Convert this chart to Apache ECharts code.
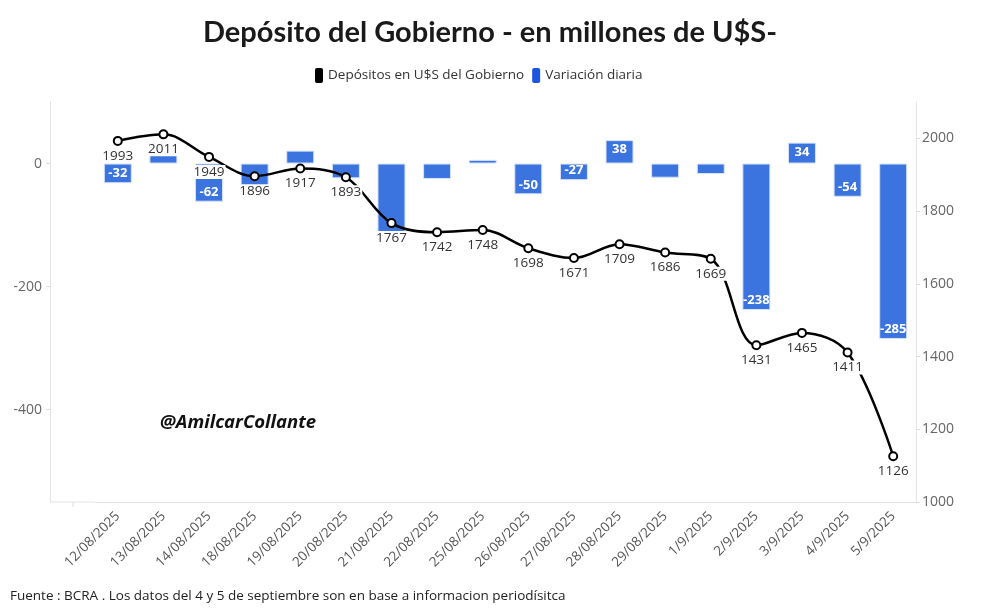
<!DOCTYPE html>
<html>
<head>
<meta charset="utf-8">
<script src="https://cdn.jsdelivr.net/npm/echarts@6/dist/echarts.min.js"></script>
<style>
  html, body { margin: 0; padding: 0; background: #fff; }
  #chart { width: 992px; height: 614px; }
</style>
</head>
<body>
<div id="chart"></div>
<script>
// fechas (eje x)
const fechas = [
  "12/08/2025", "13/08/2025", "14/08/2025", "18/08/2025", "19/08/2025",
  "20/08/2025", "21/08/2025", "22/08/2025", "25/08/2025", "26/08/2025",
  "27/08/2025", "28/08/2025", "29/08/2025", "1/9/2025", "2/9/2025",
  "3/9/2025", "4/9/2025", "5/9/2025"
];
// depósitos del gobierno en millones de U$S
const depositos = [
  1993, 2011, 1949, 1896, 1917, 1893, 1767, 1742, 1748, 1698,
  1671, 1709, 1686, 1669, 1431, 1465, 1411, 1126
];
// variación diaria
const variacion = [
  -32, 18, -62, -53, 21, -24, -126, -25, 6, -50,
  -27, 38, -23, -17, -238, 34, -54, -285
];
const ticksIzq = [-400, -200, 0];
const ticksDer = [1000, 1200, 1400, 1600, 1800, 2000];

// etiquetas de barras que se ven en el original
const etiquetasVisibles = ["-32", "-62", "-50", "-27", "38", "-238", "34", "-54", "-285"];

const fuente = "'Open Sans', 'Noto Sans', sans-serif";
const azul = "#3b74de";

const barData = variacion.map(function (v) {
  return {
    value: v,
    label: {
      show: etiquetasVisibles.indexOf(String(v)) >= 0,
      position: v < 0 ? "insideBottom" : "insideTop"
    }
  };
});

const option = {
  animation: false,
  title: {
    text: "Depósito del Gobierno - en millones de U$S-",
    left: 198,
    top: 13,
    textStyle: { fontFamily: "Lato, sans-serif", fontWeight: "bold", fontSize: 29, color: "#1a1a1a" }
  },
  legend: {
    top: 63,
    left: 310,
    itemWidth: 8,
    itemHeight: 15,
    itemGap: 8,
    textStyle: { fontFamily: fuente, fontSize: 13.5, color: "#333" },
    data: [
      { name: "Depósitos en U$S del Gobierno", icon: "roundRect", itemStyle: { color: "#000", borderWidth: 0 } },
      { name: "Variación diaria", icon: "roundRect", itemStyle: { color: "#1a56e0", borderWidth: 0 } }
    ]
  },
  grid: { left: 95, right: 76, top: 102, bottom: 112 },
  xAxis: {
    type: "category",
    data: fechas,
    axisLine: { onZero: false, lineStyle: { color: "#e4e4e4" } },
    axisTick: { alignWithLabel: true, length: 5, lineStyle: { color: "#dcdcdc" } },
    axisLabel: { rotate: 45, fontFamily: fuente, fontSize: 13.5, color: "#555", margin: 12 }
  },
  yAxis: [
    {
      type: "value",
      min: -550,
      max: 100,
      offset: 45,
      splitLine: { show: false },
      axisLine: { show: true, onZero: false, lineStyle: { color: "#e4e4e4" } },
      axisTick: { show: true, length: 4, customValues: ticksIzq, lineStyle: { color: "#dcdcdc" } },
      axisLabel: { customValues: ticksIzq, fontFamily: fuente, fontSize: 14, color: "#666", margin: 8 }
    },
    {
      type: "value",
      min: 1000,
      max: 2100,
      position: "right",
      splitLine: { show: false },
      axisLine: { show: true, onZero: false, lineStyle: { color: "#e4e4e4" } },
      axisTick: { show: true, length: 4, customValues: ticksDer, lineStyle: { color: "#dcdcdc" } },
      axisLabel: {
        customValues: ticksDer,
        formatter: function (v) { return String(v); },
        fontFamily: fuente, fontSize: 14, color: "#666", margin: 6
      }
    }
  ],
  series: [
    {
      name: "Variación diaria",
      type: "bar",
      yAxisIndex: 0,
      barWidth: 28,
      data: barData,
      itemStyle: { color: azul, borderColor: "#d7e3fb", borderWidth: 1 },
      label: {
        fontFamily: fuente,
        fontSize: 13,
        fontWeight: "bold",
        color: "#fff",
        distance: 3
      },
      z: 2
    },
    {
      name: "Depósitos en U$S del Gobierno",
      type: "line",
      yAxisIndex: 1,
      data: depositos,
      smooth: 0.35,
      symbol: "circle",
      symbolSize: 8,
      lineStyle: { color: "#000", width: 2.5 },
      itemStyle: { color: "#fff", borderColor: "#000", borderWidth: 2 },
      label: {
        show: true,
        position: "bottom",
        distance: 3,
        fontFamily: fuente,
        fontSize: 13.5,
        color: "#333",
        backgroundColor: "#fff",
        padding: [0, 1]
      },
      z: 5
    }
  ],
  graphic: [
    {
      type: "line",
      shape: { x1: 50, y1: 502, x2: 95, y2: 502 },
      style: { stroke: "#e4e4e4", lineWidth: 1 }
    },
    {
      type: "line",
      shape: { x1: 73, y1: 502, x2: 73, y2: 507 },
      style: { stroke: "#dcdcdc", lineWidth: 1 }
    },
    {
      type: "text",
      left: 160,
      top: 413,
      style: {
        text: "@AmilcarCollante",
        font: "italic bold 18.5px " + fuente,
        fill: "#111"
      }
    },
    {
      type: "text",
      left: 10,
      top: 589,
      style: {
        text: "Fuente : BCRA . Los datos del 4 y 5 de septiembre son en base a informacion periodísitca",
        font: "13.5px " + fuente,
        fill: "#222"
      }
    }
  ]
};

const chart = echarts.init(document.getElementById("chart"));
chart.setOption(option);
</script>
</body>
</html>
